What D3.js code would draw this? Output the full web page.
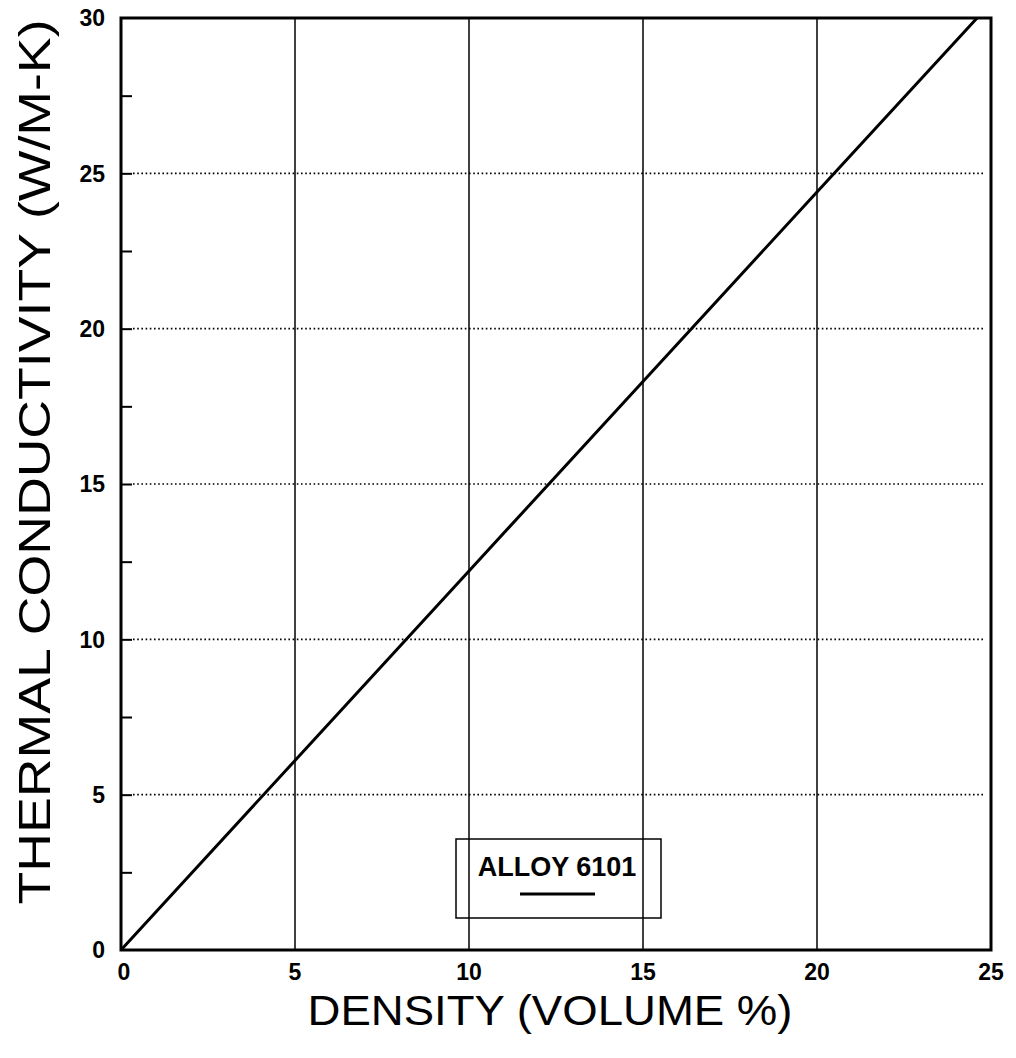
<!DOCTYPE html>
<html>
<head>
<meta charset="utf-8">
<script src="https://cdn.jsdelivr.net/npm/d3@7"></script>
<style>
  html, body { margin: 0; padding: 0; background: #fff; }
  svg { display: block; }
</style>
</head>
<body>
<svg id="chart" width="1016" height="1058"></svg>
<script>
// ---- data ----
const densityPct = [0, 5, 10, 15, 20, 24.6];
const conductivity = [0, 6.1, 12.2, 18.3, 24.4, 30];
const xTicks = [0, 5, 10, 15, 20, 25];
const yTicks = [0, 5, 10, 15, 20, 25, 30];
const yMinorTicks = [2.5, 7.5, 12.5, 17.5, 22.5, 27.5];
const seriesName = "ALLOY 6101";
const xTitle = "DENSITY (VOLUME %)";
const yTitle = "THERMAL CONDUCTIVITY (W/M-K)";

const svg = d3.select("#chart");
const m = { left: 121, right: 991, top: 18, bottom: 950 };
const x = d3.scaleLinear().domain([0, 25]).range([m.left, m.right]);
const y = d3.scaleLinear().domain([0, 30]).range([m.bottom, m.top]);
const font = "'Liberation Sans', Arial, Helvetica, sans-serif";

// vertical solid grid lines
svg.append("g").selectAll("line").data(xTicks.filter(d => d > 0 && d < 25)).join("line")
  .attr("x1", d => x(d)).attr("x2", d => x(d))
  .attr("y1", y(30)).attr("y2", y(0))
  .attr("stroke", "#000").attr("stroke-width", 1.5);

// horizontal dotted grid lines
svg.append("g").selectAll("line").data(yTicks.filter(d => d > 0 && d < 30)).join("line")
  .attr("x1", x(0) + 12).attr("x2", x(25) - 6)
  .attr("y1", d => y(d)).attr("y2", d => y(d))
  .attr("stroke", "#000").attr("stroke-width", 1.6)
  .attr("stroke-dasharray", "1.6,2.6");

// left axis ticks (inward)
const yAxis = d3.axisRight(y).tickValues(yTicks.filter(d => d > 0 && d < 30)).tickSize(11).tickFormat("");
const gy = svg.append("g").attr("transform", `translate(${m.left},0)`).call(yAxis);
gy.select(".domain").remove();
gy.selectAll("line").attr("stroke-width", 2);
const yAxisMinor = d3.axisRight(y).tickValues(yMinorTicks).tickSize(11).tickFormat("");
const gym = svg.append("g").attr("transform", `translate(${m.left},0)`).call(yAxisMinor);
gym.select(".domain").remove();
gym.selectAll("line").attr("stroke-width", 2);

// y tick labels
svg.append("g").selectAll("text").data(yTicks).join("text")
  .attr("x", m.left - 16).attr("y", d => y(d)).attr("dy", "0.36em")
  .attr("text-anchor", "end")
  .attr("font-family", font).attr("font-weight", "bold").attr("font-size", 23)
  .text(d => d);

// x tick labels
svg.append("g").selectAll("text").data(xTicks).join("text")
  .attr("x", d => x(d) + (d === 0 ? 3 : 0)).attr("y", 980)
  .attr("text-anchor", "middle")
  .attr("font-family", font).attr("font-weight", "bold").attr("font-size", 23)
  .text(d => d);

// data line
const line = d3.line().x((d, i) => x(densityPct[i])).y(d => y(d));
svg.append("path").datum(conductivity)
  .attr("d", line).attr("fill", "none")
  .attr("stroke", "#000").attr("stroke-width", 3);

// frame
svg.append("rect")
  .attr("x", m.left).attr("y", m.top)
  .attr("width", m.right - m.left).attr("height", m.bottom - m.top)
  .attr("fill", "none").attr("stroke", "#000").attr("stroke-width", 3);

// legend
const lg = svg.append("g");
lg.append("rect").attr("x", 456).attr("y", 839).attr("width", 205).attr("height", 79)
  .attr("fill", "none").attr("stroke", "#000").attr("stroke-width", 1.5);
lg.append("text").attr("x", 557).attr("y", 876).attr("text-anchor", "middle")
  .attr("font-family", font).attr("font-size", 27).attr("font-weight", "bold")
  .text(seriesName);
lg.append("line").attr("x1", 520).attr("x2", 595).attr("y1", 894).attr("y2", 894)
  .attr("stroke", "#000").attr("stroke-width", 3);

// axis titles
svg.append("text").attr("x", 550).attr("y", 1025).attr("text-anchor", "middle")
  .attr("font-family", font).attr("font-size", 42)
  .attr("textLength", 485).attr("lengthAdjust", "spacingAndGlyphs")
  .text(xTitle);
svg.append("text")
  .attr("transform", "translate(50,462) rotate(-90)")
  .attr("text-anchor", "middle")
  .attr("font-family", font).attr("font-size", 44)
  .attr("textLength", 885).attr("lengthAdjust", "spacingAndGlyphs")
  .text(yTitle);
</script>
</body>
</html>
